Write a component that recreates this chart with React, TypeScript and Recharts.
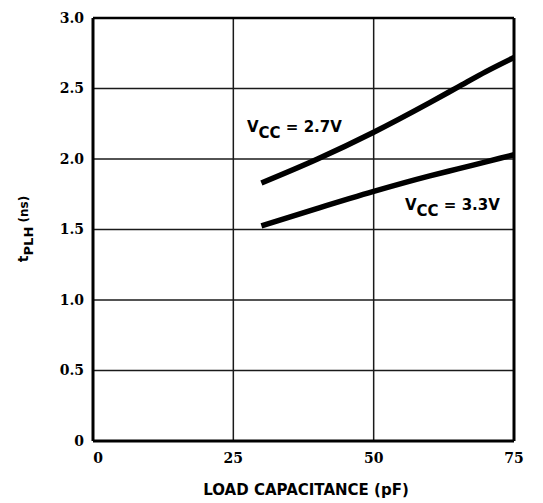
import { LineChart, Line, XAxis, YAxis, CartesianGrid, ReferenceLine, Customized } from 'recharts';

// load capacitance (pF) sample points
const loadPf = [30, 40, 50, 60, 65, 70, 75];
// tPLH (ns) at Vcc = 2.7V
const tplh27 = [1.83, 2.0, 2.19, 2.4, 2.51, 2.62, 2.72];
// tPLH (ns) at Vcc = 3.3V
const tplh33 = [1.525, 1.65, 1.77, 1.88, 1.93, 1.98, 2.03];

const xTicks = [0, 25, 50, 75];
const yTicks = [0, 0.5, 1.0, 1.5, 2.0, 2.5, 3.0];

const data = loadPf.map((pf, i) => ({ pf, v27: tplh27[i], v33: tplh33[i] }));

const sans = '"DejaVu Sans", sans-serif';
const serif = '"DejaVu Serif", serif';

const XTick = (props: any) => {
  const { x, y, payload } = props;
  return (
    <text
      x={x + (payload.value === 0 ? 5 : 0)}
      y={y}
      dy={10.5}
      textAnchor="middle"
      fill="#000"
      fontFamily={serif}
      fontWeight="bold"
      fontSize={14}
    >
      {payload.value}
    </text>
  );
};

const Labels = () => (
  <g fill="#000" fontFamily={sans} fontWeight="bold">
    <text x={247} y={131.5} fontSize={15}>
      V<tspan dy={6}>CC</tspan>
      <tspan dy={-6}> = 2.7V</tspan>
    </text>
    <text x={405} y={210} fontSize={15}>
      V<tspan dy={6}>CC</tspan>
      <tspan dy={-6}> = 3.3V</tspan>
    </text>
    <text transform="translate(28,229) rotate(-90)" textAnchor="middle" fontSize={12}>
      <tspan fontSize={14}>t</tspan>
      <tspan dy={5} fontSize={13}>PLH</tspan>
      <tspan dy={-5}> (ns)</tspan>
    </text>
    <text x={306} y={495} textAnchor="middle" fontSize={15}>
      LOAD CAPACITANCE (pF)
    </text>
  </g>
);

export default function App() {
  return (
    <div style={{ position: 'absolute', left: 0, top: 0, background: '#fff' }}>
      <LineChart width={543} height={503} data={data} margin={{ top: 18, right: 29, left: 0, bottom: 0 }}>
        <CartesianGrid stroke="#1a1a1a" strokeWidth={1.5} horizontal vertical />
        <XAxis
          dataKey="pf"
          type="number"
          domain={[0, 75]}
          ticks={xTicks}
          height={62}
          axisLine={{ stroke: '#000', strokeWidth: 3 }}
          tickLine={false}
          tickSize={0}
          tickMargin={11}
          tick={<XTick />}
        />
        <YAxis
          type="number"
          domain={[0, 3]}
          ticks={yTicks}
          width={93}
          axisLine={{ stroke: '#000', strokeWidth: 3 }}
          tickLine={false}
          tickSize={0}
          tickMargin={9}
          tickFormatter={(v: number) => (v === 0 ? '0' : v.toFixed(1))}
          tick={{ fill: '#000', fontFamily: serif, fontWeight: 'bold', fontSize: 14 }}
        />
        <ReferenceLine x={75} stroke="#000" strokeWidth={3} />
        <ReferenceLine y={3} stroke="#000" strokeWidth={2.5} />
        <Line
          type="monotone"
          dataKey="v27"
          stroke="#000"
          strokeWidth={5.5}
          dot={false}
          activeDot={false}
          isAnimationActive={false}
        />
        <Line
          type="monotone"
          dataKey="v33"
          stroke="#000"
          strokeWidth={5.5}
          dot={false}
          activeDot={false}
          isAnimationActive={false}
        />
        <Customized component={Labels} />
      </LineChart>
    </div>
  );
}
